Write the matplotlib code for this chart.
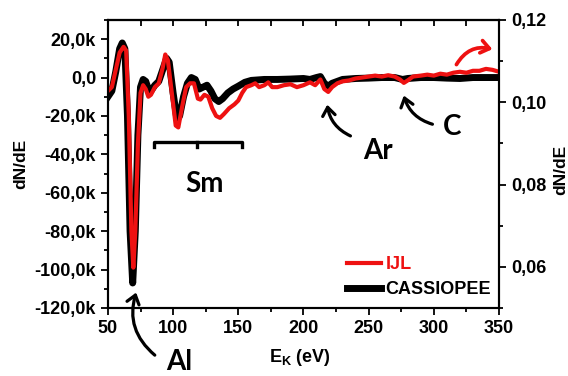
import matplotlib

matplotlib.use("Agg")
import matplotlib.pyplot as plt
from matplotlib.lines import Line2D
from matplotlib.ticker import FuncFormatter, MultipleLocator

plt.rcParams["font.family"] = ["Liberation Sans", "DejaVu Sans"]
plt.rcParams["font.weight"] = "bold"
plt.rcParams["mathtext.fontset"] = "custom"
plt.rcParams["mathtext.rm"] = "Liberation Sans:bold"
plt.rcParams["mathtext.bf"] = "Liberation Sans:bold"

# CASSIOPEE spectrum (energy in eV, dN/dE in thousands)
cass_e = [50, 53, 56, 59, 61, 63, 65, 67, 69, 71, 73, 75, 77, 79, 81, 83, 86, 89,
          92, 95, 97, 100, 103, 105, 108, 111, 114, 117, 120, 123, 126, 129, 132,
          135, 138, 142, 146, 150, 155, 160, 170, 180, 190, 200, 205, 210, 213,
          216, 219, 222, 226, 230, 240, 250, 260, 270, 276, 280, 290, 300, 310,
          320, 330, 340, 350]
cass_y = [-10, -7, 3, 15, 18, 15, -20, -80, -107, -80, -30, -5, -1, -2, -6, -7,
          -4, -2, 4, 10, 8, -8, -22, -20, -10, -3, 0, -1, -6, -5, -4, -7, -11,
          -12.5, -11, -8, -6, -4.5, -2.5, -1.5, -1, -1, -0.8, -0.5, -1, 0, 0.5,
          -3, -4.5, -3, -2, -1, -0.5, -0.3, 0, 0, -1, -0.5, 0, 0, -0.3, -0.5, 0,
          0, 0]

# IJL spectrum
ijl_e = [50, 53, 56, 59, 62, 64, 66, 68, 69.5, 71, 73, 75, 77, 79, 81, 83, 86,
         89, 92, 94, 96, 99, 102, 104, 107, 110, 113, 116, 119, 121, 124, 127,
         130, 133, 136, 139, 143, 147, 150, 153, 156, 160, 163, 166, 170, 173,
         176, 180, 185, 190, 195, 200, 205, 209, 213, 216, 219, 222, 226, 230,
         235, 240, 245, 250, 255, 260, 265, 270, 274, 277, 280, 284, 290, 295,
         300, 305, 310, 315, 320, 325, 330, 335, 340, 345, 350]
ijl_y = [-7, -5, 4, 13, 16, 14, -20, -80, -99, -80, -35, -8, -4, -6, -10, -9,
         -5, -3, 5, 12, 9, -8, -25, -26, -15, -5, -3, -3, -11, -11.5, -9, -10,
         -16, -20, -21, -19, -16, -14, -12, -8, -5, -4, -3, -5, -4, -2.5, -5,
         -5, -4, -3.5, -5, -4, -2.5, -4, -1, -6, -7.5, -5, -3, -2, -1.5, -0.5,
         0, 0.5, 1, 0.5, 1.2, 0.5, -1, -2.8, -1.5, 0.5, 1, 1.5, 1, 2, 1.5, 2.5,
         3, 2.5, 3.5, 3.5, 4.5, 4, 3]

legend_labels = ["IJL", "CASSIOPEE"]

RED = "#ee1111"


def k_format(value, _pos):
    if abs(value) < 1e-9:
        return "0,0"
    return f"{value:.1f}k".replace(".", ",")


def right_format(value, _pos):
    return f"{value:.2f}".replace(".", ",")


def main() -> None:
    fig = plt.figure(figsize=(5.68, 3.76), dpi=100)
    ax = fig.add_axes([0.190, 0.181, 0.6885, 0.766])

    ax.plot(cass_e, cass_y, color="black", lw=5.0, solid_joinstyle="round")
    ax.plot(ijl_e, ijl_y, color=RED, lw=3.0, solid_joinstyle="round")

    ax.set_xlim(50, 350)
    ax.set_ylim(-120, 30)
    ax.xaxis.set_major_locator(MultipleLocator(50))
    ax.xaxis.set_minor_locator(MultipleLocator(25))
    ax.yaxis.set_minor_locator(MultipleLocator(10))
    ax.set_yticks([-120, -100, -80, -60, -40, -20, 0, 20])
    ax.yaxis.set_major_formatter(FuncFormatter(k_format))

    ax.tick_params(axis="both", which="major", labelsize=13, width=1.3,
                   length=5, direction="out")
    ax.tick_params(axis="both", which="minor", width=1.3, length=3,
                   direction="out")
    for label in ax.get_xticklabels() + ax.get_yticklabels():
        label.set_fontweight("bold")
    for spine in ax.spines.values():
        spine.set_linewidth(1.5)

    # top axis ticks, pointing inward, no labels
    top = ax.secondary_xaxis("top")
    top.xaxis.set_major_locator(MultipleLocator(25))
    top.tick_params(direction="in", length=4, width=1.3, labeltop=False)
    top.spines["top"].set_linewidth(1.5)

    rax = ax.twinx()
    rax.set_ylim(0.05, 0.12)
    rax.yaxis.set_minor_locator(MultipleLocator(0.01))
    rax.set_yticks([0.06, 0.08, 0.10, 0.12])
    rax.yaxis.set_major_formatter(FuncFormatter(right_format))
    rax.tick_params(axis="y", which="major", labelsize=13, width=1.3,
                    length=5, direction="out")
    rax.tick_params(axis="y", which="minor", width=1.3, length=3,
                    direction="out")
    for label in rax.get_yticklabels():
        label.set_fontweight("bold")
    for spine in rax.spines.values():
        spine.set_linewidth(1.5)

    ax.set_ylabel("dN/dE", fontsize=12.5, fontweight="bold")
    ax.yaxis.set_label_coords(-0.205, 0.5)
    rax.set_ylabel("dN/dE", fontsize=12.5, fontweight="bold")
    rax.yaxis.set_label_coords(1.14, 0.48)
    ax.set_xlabel(r"E$_\mathregular{K}$ (eV)", fontsize=13, fontweight="bold")
    ax.xaxis.set_label_coords(0.49, -0.135)

    handles = [
        Line2D([], [], color=RED, lw=3.0),
        Line2D([], [], color="black", lw=5.0),
    ]
    leg = ax.legend(handles, legend_labels, loc="lower right", frameon=False,
                    fontsize=13, handlelength=1.9, handletextpad=0.25,
                    labelspacing=0.45, borderaxespad=0.15,
                    bbox_to_anchor=(1.005, 0.0))
    for text, color in zip(leg.get_texts(), [RED, "black"]):
        text.set_color(color)
        text.set_fontweight("bold")

    note_font = dict(family=["Lato", "DejaVu Sans"], fontsize=20,
                     fontweight="bold", ha="center", va="center")
    arrow = dict(arrowstyle="->,head_length=0.6,head_width=0.45", lw=2.3,
                 color="black")

    ax.annotate("", xy=(72.3, -110.6), xytext=(87.6, -145.5),
                arrowprops=dict(arrow, connectionstyle="arc3,rad=-0.35"),
                annotation_clip=False)
    ax.text(105, -148, "Al", clip_on=False, **note_font)

    ax.annotate("", xy=(218, -12.7), xytext=(238, -31),
                arrowprops=dict(arrow, connectionstyle="arc3,rad=-0.3"))
    ax.text(257.5, -38.5, "Ar", **note_font)

    ax.annotate("", xy=(276.4, -8), xytext=(301, -24.7),
                arrowprops=dict(arrow, connectionstyle="arc3,rad=-0.3"))
    ax.text(314, -26, "C", **note_font)

    ax.annotate("", xy=(347, 14.4), xytext=(316.3, 5.5),
                arrowprops=dict(arrowstyle="->,head_length=0.6,head_width=0.45",
                                lw=2.7, color=RED,
                                connectionstyle="arc3,rad=-0.4"))

    # Sm bracket
    ax.plot([85.3, 85.3, 152.8, 152.8], [-36, -33.5, -33.5, -36],
            color="black", lw=2.4)
    ax.plot([118.3, 118.3], [-33.5, -36], color="black", lw=2.4)
    ax.text(124.4, -55.5, "Sm", **note_font)

    fig.savefig("out.png", dpi=100)
    plt.close(fig)


if __name__ == "__main__":
    main()
